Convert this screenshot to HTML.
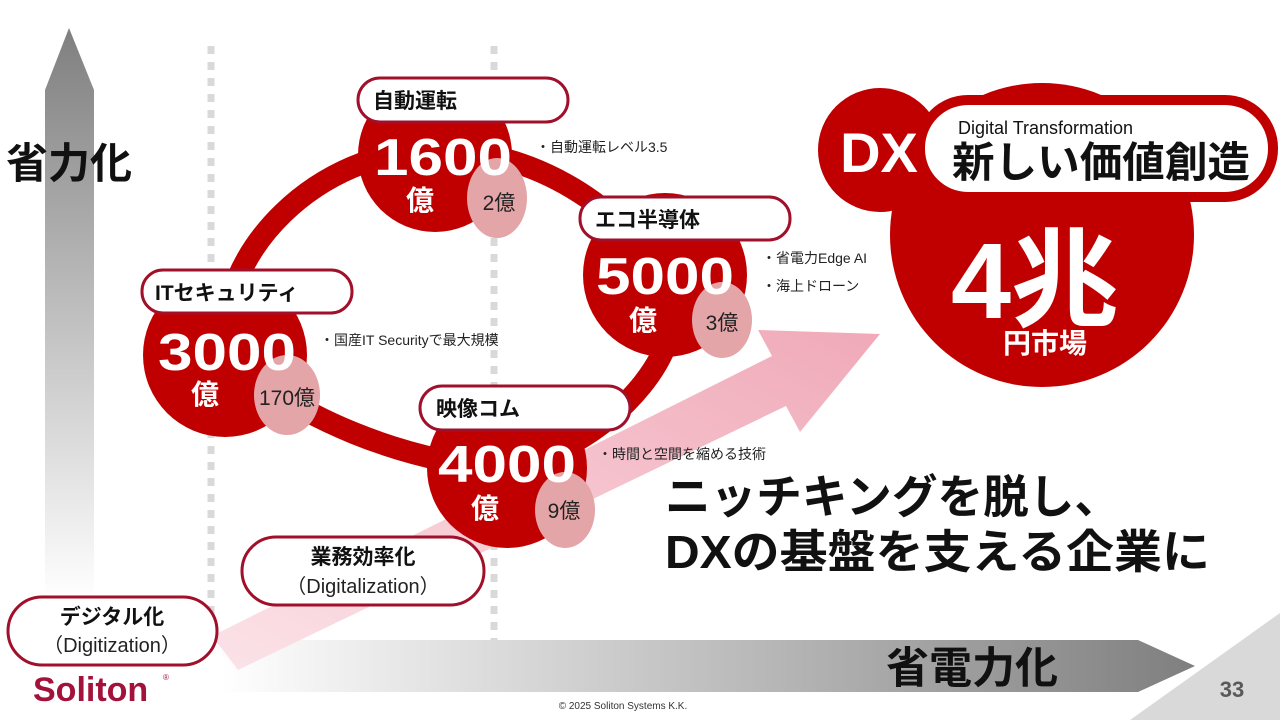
<!DOCTYPE html>
<html><head><meta charset="utf-8"><style>
html,body{margin:0;padding:0;background:#fff;}
svg{display:block;font-family:"Liberation Sans","Noto Sans CJK JP",sans-serif;}
.b{font-weight:bold;}
</style></head><body>
<svg width="1280" height="720" viewBox="0 0 1280 720">
<defs>
<linearGradient id="gv" x1="0" y1="0" x2="0" y2="1"><stop offset="0" stop-color="#7f7f7f"/><stop offset="1" stop-color="#ffffff"/></linearGradient>
<linearGradient id="gh" x1="0" y1="0" x2="1" y2="0"><stop offset="0" stop-color="#ffffff"/><stop offset="1" stop-color="#7f7f7f"/></linearGradient>
<linearGradient id="gp" x1="0" y1="1" x2="1" y2="0"><stop offset="0" stop-color="#fbe3e8"/><stop offset="1" stop-color="#f0a9b8"/></linearGradient>
</defs>
<polygon points="1130,720 1280,613 1280,720" fill="#d9d9d9"/>
<text x="1232" y="697" font-size="22" fill="#595959" class="b" text-anchor="middle">33</text>
<line x1="211" y1="46" x2="211" y2="640" stroke="#d9d9d9" stroke-width="7" stroke-dasharray="8,8"/>
<line x1="494" y1="46" x2="494" y2="640" stroke="#d9d9d9" stroke-width="7" stroke-dasharray="8,8"/>
<polygon points="69,28 94,90 94,600 45,600 45,90" fill="url(#gv)"/>
<text x="6" y="178" font-size="42" class="b" fill="#111">省力化</text>
<polygon points="220,640 1138,640 1195,666 1138,692 220,692" fill="url(#gh)"/>
<text x="886" y="683" font-size="43" class="b" fill="#111">省電力化</text>
<polygon points="212,636 772,356 758,330 880,334 800,432 786,406 238,670" fill="url(#gp)"/>
<path d="M225,355 C215,250 320,150 435,150 C540,150 620,210 665,275 C700,340 620,440 507,470 C400,460 300,420 225,355 Z" fill="none" stroke="#c00000" stroke-width="22"/>
<circle cx="435" cy="155" r="77" fill="#c00000"/>
<circle cx="665" cy="275" r="82" fill="#c00000"/>
<circle cx="225" cy="355" r="82" fill="#c00000"/>
<circle cx="507" cy="468" r="80" fill="#c00000"/>
<ellipse cx="497" cy="198" rx="30" ry="40" fill="#e3a5a8"/>
<ellipse cx="722" cy="320" rx="30" ry="38" fill="#e3a5a8"/>
<ellipse cx="287" cy="395" rx="33" ry="40" fill="#e3a5a8"/>
<ellipse cx="565" cy="510" rx="30" ry="38" fill="#e3a5a8"/>
<g fill="#fff" class="b">
<text x="443" y="175" font-size="52" text-anchor="middle" textLength="138" lengthAdjust="spacingAndGlyphs">1600</text>
<text x="420" y="210" font-size="28" text-anchor="middle">億</text>
<text x="665" y="294" font-size="52" text-anchor="middle" textLength="138" lengthAdjust="spacingAndGlyphs">5000</text>
<text x="643" y="330" font-size="28" text-anchor="middle">億</text>
<text x="227" y="370" font-size="52" text-anchor="middle" textLength="138" lengthAdjust="spacingAndGlyphs">3000</text>
<text x="205" y="404" font-size="28" text-anchor="middle">億</text>
<text x="507" y="482" font-size="52" text-anchor="middle" textLength="138" lengthAdjust="spacingAndGlyphs">4000</text>
<text x="485" y="518" font-size="28" text-anchor="middle">億</text>
</g>
<g fill="#222" font-size="21" text-anchor="middle">
<text x="499" y="210">2億</text>
<text x="722" y="330">3億</text>
<text x="287" y="405">170億</text>
<text x="564" y="518">9億</text>
</g>
<g fill="#fff" stroke="#a0102a" stroke-width="3">
<rect x="358" y="78" width="210" height="44" rx="22"/>
<rect x="580" y="197" width="210" height="43" rx="21"/>
<rect x="142" y="270" width="210" height="43" rx="21"/>
<rect x="420" y="386" width="210" height="44" rx="22"/>
<rect x="242" y="537" width="242" height="68" rx="34"/>
<rect x="8" y="597" width="209" height="68" rx="34"/>
</g>
<g fill="#111" class="b" font-size="21">
<text x="373" y="108">自動運転</text>
<text x="595" y="227">エコ半導体</text>
<text x="155" y="300">ITセキュリティ</text>
<text x="436" y="416">映像コム</text>
<text x="363" y="564" text-anchor="middle">業務効率化</text>
<text x="112" y="624" text-anchor="middle">デジタル化</text>
</g>
<g fill="#222" font-size="20" text-anchor="middle">
<text x="363" y="593">（Digitalization）</text>
<text x="112" y="652">（Digitization）</text>
</g>
<g fill="#222" font-size="14">
<text x="536" y="152">・自動運転レベル3.5</text>
<text x="762" y="263">・省電力Edge AI</text>
<text x="762" y="291">・海上ドローン</text>
<text x="320" y="345">・国産IT Securityで最大規模</text>
<text x="598" y="459">・時間と空間を縮める技術</text>
</g>
<circle cx="1042" cy="235" r="152" fill="#c00000"/>
<circle cx="880" cy="150" r="62" fill="#c00000"/>
<rect x="915" y="95" width="363" height="107" rx="53" fill="#c00000"/>
<rect x="925" y="105" width="343" height="87" rx="43" fill="#fff"/>
<text x="879" y="172" font-size="56" class="b" fill="#fff" text-anchor="middle">DX</text>
<text x="958" y="134" font-size="18" fill="#111">Digital Transformation</text>
<text x="952" y="177" font-size="42" class="b" fill="#111" textLength="298" lengthAdjust="spacingAndGlyphs">新しい価値創造</text>
<text x="1035" y="318" font-size="108" class="b" fill="#fff" text-anchor="middle">4兆</text>
<text x="1045" y="353" font-size="28" class="b" fill="#fff" text-anchor="middle">円市場</text>
<g fill="#111" class="b" font-size="46">
<text x="665" y="513" textLength="455" lengthAdjust="spacingAndGlyphs">ニッチキングを脱し、</text>
<text x="665" y="568" textLength="545" lengthAdjust="spacingAndGlyphs">DXの基盤を支える企業に</text>
</g>
<text x="33" y="701" font-size="34" class="b" fill="#a3123a">Soliton</text>
<text x="163" y="680" font-size="8" fill="#a3123a">®</text>
<text x="623" y="709" font-size="10" fill="#333" text-anchor="middle">© 2025 Soliton Systems K.K.</text>
</svg>
</body></html>
